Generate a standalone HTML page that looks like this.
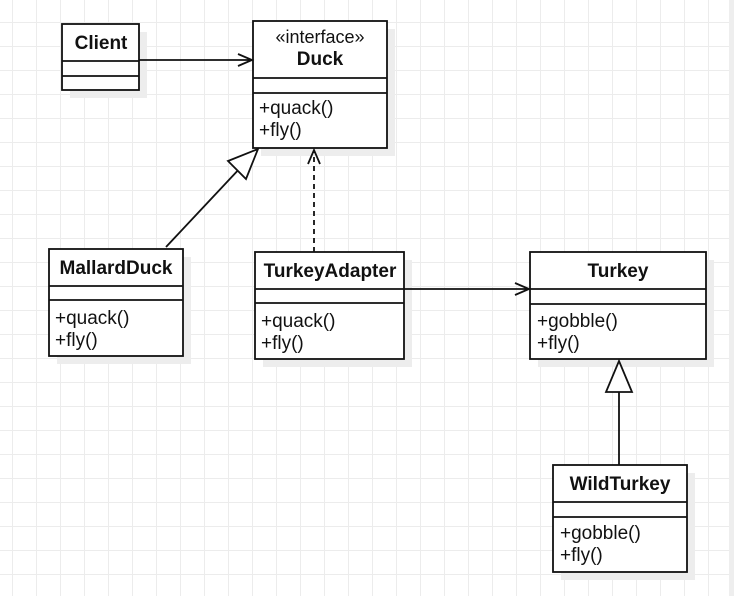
<!DOCTYPE html>
<html><head><style>
body{margin:0;width:734px;height:596px;overflow:hidden;background:#fff;
background-image:linear-gradient(#ececec 1px,transparent 1px),linear-gradient(90deg,#ececec 1px,transparent 1px);
background-size:24px 24px;background-position:0 22px,12px 0;font-family:"Liberation Sans",sans-serif;}
svg{position:absolute;left:0;top:0}
</style></head><body>
<svg width="734" height="596" xmlns="http://www.w3.org/2000/svg" font-family="Liberation Sans, sans-serif" fill="none">
<rect x="729" y="0" width="5" height="596" fill="#eee"/>
<g fill="#ededed">
<rect x="70" y="32" width="77" height="66"/>
<rect x="261" y="29" width="134" height="127"/>
<rect x="57" y="257" width="134" height="107"/>
<rect x="263" y="260" width="149" height="107"/>
<rect x="538" y="260" width="176" height="107"/>
<rect x="561" y="473" width="134" height="107"/>
</g>
<g stroke="#111" stroke-width="1.8" fill="#fff">
<rect x="62" y="24" width="77" height="66"/>
<rect x="253" y="21" width="134" height="127"/>
<rect x="49" y="249" width="134" height="107"/>
<rect x="255" y="252" width="149" height="107"/>
<rect x="530" y="252" width="176" height="107"/>
<rect x="553" y="465" width="134" height="107"/>
</g>
<g stroke="#111" stroke-width="1.8">
<path d="M62 61H139M62 76H139"/>
<path d="M253 78H387M253 93H387"/>
<path d="M49 286H183M49 300H183"/>
<path d="M255 289H404M255 303H404"/>
<path d="M530 289H706M530 304H706"/>
<path d="M553 502H687M553 517H687"/>
<path d="M139 60H252M238 54L252 60L238 66"/>
<path d="M404 289H529M515 283L529 289L515 295"/>
<path d="M166 247L242 166"/>
<path d="M258 149L228 161L246 179Z" fill="#fff"/>
<path d="M314 252V151" stroke-dasharray="5,4"/>
<path d="M308 164L314 150L320 164"/>
<path d="M619 465V392"/>
<path d="M619 361L606 392H632Z" fill="#fff"/>
</g>
<g fill="#111" font-size="19" textLength="">
<text x="101" y="49" text-anchor="middle" font-weight="bold">Client</text>
<text x="320" y="43" text-anchor="middle" font-size="18">«interface»</text>
<text x="320" y="65" text-anchor="middle" font-weight="bold">Duck</text>
<text x="259" y="114" font-size="19">+quack()</text>
<text x="259" y="136" font-size="19">+fly()</text>
<text x="116" y="274" text-anchor="middle" font-weight="bold">MallardDuck</text>
<text x="55" y="324" font-size="19">+quack()</text>
<text x="55" y="346" font-size="19">+fly()</text>
<text x="330" y="277" text-anchor="middle" font-weight="bold">TurkeyAdapter</text>
<text x="261" y="327" font-size="19">+quack()</text>
<text x="261" y="349" font-size="19">+fly()</text>
<text x="618" y="277" text-anchor="middle" font-weight="bold">Turkey</text>
<text x="537" y="327" font-size="19">+gobble()</text>
<text x="537" y="349" font-size="19">+fly()</text>
<text x="620" y="490" text-anchor="middle" font-weight="bold">WildTurkey</text>
<text x="560" y="539" font-size="19">+gobble()</text>
<text x="560" y="561" font-size="19">+fly()</text>
</g>
</svg>
</body></html>
